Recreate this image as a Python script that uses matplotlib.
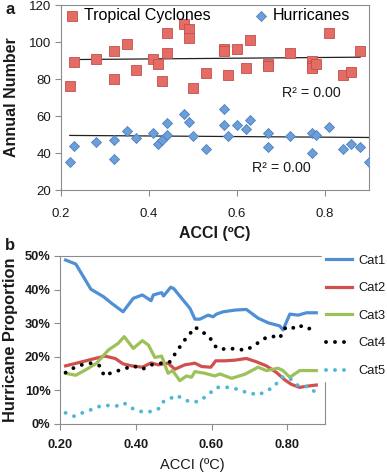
import matplotlib
matplotlib.use("Agg")
import matplotlib.pyplot as plt
from matplotlib.ticker import FuncFormatter

# ---- panel a : annual numbers vs ACCI ----
tc_x = [0.22, 0.23, 0.28, 0.32, 0.32, 0.35, 0.37, 0.41, 0.42, 0.43, 0.44, 0.44,
        0.48, 0.49, 0.49, 0.50, 0.53, 0.57, 0.57, 0.58, 0.60, 0.62, 0.63, 0.67,
        0.67, 0.72, 0.77, 0.77, 0.77, 0.78, 0.81, 0.84, 0.86, 0.88]
tc_y = [76, 89, 91, 95, 80, 99, 85, 91, 88, 79, 105, 94,
        110, 107, 102, 75, 83, 96, 95, 82, 96, 86, 101, 88,
        87, 94, 90, 87, 86, 88, 105, 82, 84, 95]
hu_x = [0.22, 0.23, 0.28, 0.32, 0.32, 0.35, 0.37, 0.41, 0.42, 0.43, 0.44, 0.44,
        0.48, 0.49, 0.50, 0.53, 0.57, 0.57, 0.58, 0.60, 0.62, 0.63, 0.67, 0.67,
        0.72, 0.77, 0.77, 0.78, 0.81, 0.84, 0.86, 0.88, 0.90]
hu_y = [35, 44, 46, 47, 37, 52, 48, 51, 45, 47, 56, 50,
        61, 57, 49, 42, 64, 55, 49, 55, 53, 58, 51, 43,
        49, 51, 40, 50, 54, 42, 45, 43, 35]
# trend lines (endpoints)
tc_trend_x = [0.22, 0.88]
tc_trend_y = [90.5, 91.8]
hu_trend_x = [0.22, 0.90]
hu_trend_y = [49.5, 48.4]

# ---- panel b : hurricane proportion by category ----
cat1_x = [0.214, 0.241, 0.281, 0.314, 0.336, 0.366, 0.393, 0.417, 0.44, 0.446, 0.468,
          0.473, 0.492, 0.50, 0.521, 0.543, 0.556, 0.569, 0.591, 0.604, 0.613, 0.631,
          0.662, 0.692, 0.723, 0.75, 0.78, 0.789, 0.807, 0.829, 0.851, 0.877]
cat1_y = [48.8, 47.6, 40.1, 37.9, 35.9, 33.4, 37.4, 38.4, 36.7, 38.4, 39.1,
          38.1, 40.7, 40.3, 37.4, 34.4, 31.2, 31.2, 32.4, 31.9, 32.7, 33.4,
          33.9, 34.1, 31.5, 30.1, 29.2, 28.0, 32.7, 32.4, 33.1, 33.1]
cat2_x = [0.214, 0.257, 0.292, 0.318, 0.345, 0.366, 0.389, 0.417, 0.44, 0.459, 0.485,
          0.503, 0.529, 0.556, 0.574, 0.598, 0.611, 0.635, 0.662, 0.692, 0.719, 0.745,
          0.772, 0.794, 0.811, 0.833, 0.855, 0.877]
cat2_y = [17.3, 18.5, 19.5, 20.2, 19.5, 17.9, 17.3, 16.9, 18.2, 17.6, 18.1,
          16.3, 17.6, 18.1, 17.1, 16.9, 18.8, 18.8, 19.0, 19.5, 18.5, 17.3,
          15.3, 13.1, 11.8, 10.9, 11.3, 11.6]
cat3_x = [0.214, 0.241, 0.27, 0.296, 0.327, 0.353, 0.369, 0.393, 0.417, 0.433, 0.45,
          0.468, 0.485, 0.497, 0.516, 0.534, 0.547, 0.556, 0.582, 0.609, 0.622, 0.653,
          0.688, 0.723, 0.745, 0.776, 0.789, 0.807, 0.833, 0.877]
cat3_y = [15.1, 14.5, 16.3, 18.1, 22.0, 24.0, 26.0, 22.5, 24.8, 23.5, 19.8,
          20.2, 15.1, 15.9, 12.9, 14.3, 13.9, 15.6, 15.1, 14.3, 14.9, 13.6,
          14.8, 16.9, 15.9, 16.6, 15.9, 13.9, 15.9, 15.9]
cat4_x = [0.214, 0.234, 0.257, 0.281, 0.305, 0.316, 0.336, 0.366, 0.393, 0.417, 0.44,
          0.468, 0.49, 0.507, 0.529, 0.551, 0.556, 0.569, 0.595, 0.609, 0.622, 0.648,
          0.67, 0.692, 0.714, 0.741, 0.759, 0.78, 0.794, 0.807, 0.829, 0.855, 0.877]
cat4_y = [15.3, 16.6, 17.6, 18.1, 17.3, 14.3, 15.3, 16.3, 17.3, 16.3, 17.6,
          18.1, 18.5, 21.5, 25.0, 28.0, 28.8, 28.0, 25.8, 23.2, 22.2, 22.5,
          22.2, 22.0, 23.5, 25.5, 26.2, 25.5, 28.5, 28.0, 29.5, 28.2, 29.5]
cat5_x = [0.214, 0.237, 0.258, 0.278, 0.30, 0.316, 0.336, 0.353, 0.369, 0.389, 0.417,
          0.441, 0.463, 0.472, 0.49, 0.501, 0.51, 0.529, 0.551, 0.569, 0.60, 0.613,
          0.626, 0.648, 0.67, 0.692, 0.714, 0.723, 0.741, 0.763, 0.776, 0.789, 0.807,
          0.829, 0.855, 0.873]
cat5_y = [3.3, 2.3, 3.3, 4.1, 5.1, 5.6, 5.4, 5.4, 6.2, 4.7, 3.6,
          3.7, 4.7, 6.6, 7.4, 8.4, 8.4, 7.1, 6.5, 6.8, 9.6, 10.9,
          10.9, 10.9, 10.3, 9.4, 8.9, 8.6, 9.6, 10.9, 12.6, 14.1, 13.6,
          11.4, 11.1, 9.6]

plt.rcParams['font.family'] = ['Liberation Sans', 'DejaVu Sans']
grey = '#8c8c8c'
txt = '#1a1a1a'

fig = plt.figure(figsize=(3.87, 4.73), dpi=100)

# ================= panel a =================
ax1 = fig.add_axes([0.1576, 0.5983, 0.7959, 0.3911])
ax1.scatter(tc_x, tc_y, marker='s', s=42, color='#e46c64', edgecolors='#c0504d',
            linewidths=0.6, label='Tropical Cyclones', zorder=3)
ax1.scatter(hu_x, hu_y, marker='D', s=26, color='#6b9fd9', edgecolors='#4f81bd',
            linewidths=0.6, label='Hurricanes', zorder=3)
ax1.plot(tc_trend_x, tc_trend_y, color='#222222', lw=0.9, zorder=2)
ax1.plot(hu_trend_x, hu_trend_y, color='#222222', lw=0.9, zorder=2)
ax1.text(0.77, 72.3, 'R² = 0.00', fontsize=10.3, ha='center', va='center', color=txt)
ax1.text(0.70, 31.7, 'R² = 0.00', fontsize=10.3, ha='center', va='center', color=txt)

ax1.set_xlim(0.2, 0.9)
ax1.set_ylim(20, 120)
ax1.set_xticks([0.2, 0.4, 0.6, 0.8])
ax1.set_xticklabels(['0.2', '0.4', '0.6', '0.8'])
ax1.set_yticks([20, 40, 60, 80, 100, 120])
ax1.tick_params(labelsize=9.5, length=4, color=grey, pad=3, labelcolor=txt)
ax1.tick_params(axis='x', pad=9)
for s in ax1.spines.values():
    s.set_color(grey)
ax1.set_xlabel('ACCI (ºC)', fontsize=11.5, fontweight='bold', labelpad=4, color=txt)
ax1.set_ylabel('Annual Number', fontsize=11.5, fontweight='bold', labelpad=7, color=txt)
ax1.legend(loc='upper left', ncol=2, frameon=False, fontsize=11.5,
           handletextpad=0.1, columnspacing=2.6, borderaxespad=0.1,
           bbox_to_anchor=(-0.02, 1.025), handlelength=1.2)
fig.text(0.013, 0.995, 'a', fontsize=12, fontweight='bold', va='top', color=txt)

# ================= panel b =================
ax2 = fig.add_axes([0.1558, 0.1036, 0.684, 0.3552])
ax2.plot(cat1_x, cat1_y, color='#4f8fd6', lw=2.3, label='Cat1')
ax2.plot(cat2_x, cat2_y, color='#d0504d', lw=2.3, label='Cat2')
ax2.plot(cat3_x, cat3_y, color='#9bc158', lw=2.3, label='Cat3')
ax2.plot(cat4_x, cat4_y, color='black', lw=2.8, ls=(0, (0.01, 2.3)),
         dash_capstyle='round', label='Cat4')
ax2.plot(cat5_x, cat5_y, color='#4cb8d6', lw=2.8, ls=(0, (0.01, 2.3)),
         dash_capstyle='round', label='Cat5')

ax2.set_xlim(0.2, 0.9)
ax2.set_ylim(0, 50)
ax2.set_xticks([0.2, 0.4, 0.6, 0.8])
ax2.set_yticks([0, 10, 20, 30, 40, 50])
ax2.xaxis.set_major_formatter(FuncFormatter(lambda v, p: '%.2f' % v))
ax2.yaxis.set_major_formatter(FuncFormatter(lambda v, p: '%d%%' % v))
ax2.tick_params(labelsize=9.3, length=4, color=grey, pad=3, labelcolor=txt)
ax2.tick_params(axis='x', pad=7)
for lab in ax2.get_xticklabels() + ax2.get_yticklabels():
    lab.set_fontweight('bold')
for s in ax2.spines.values():
    s.set_color(grey)
ax2.set_xlabel('ACCI (ºC)', fontsize=10.5, labelpad=5, color=txt)
ax2.set_ylabel('Hurricane Proportion', fontsize=11.8, fontweight='bold', labelpad=5,
               color=txt)
leg = ax2.legend(loc='upper left', bbox_to_anchor=(0.99, 1.03), frameon=True,
                 fontsize=9.3, handlelength=2.0, handletextpad=0.45,
                 labelspacing=1.2, borderpad=0.3, borderaxespad=0)
leg.get_frame().set_facecolor('white')
leg.get_frame().set_edgecolor('white')
leg.get_frame().set_alpha(1)
for t in leg.get_texts():
    t.set_color(txt)
fig.text(0.012, 0.496, 'b', fontsize=12, fontweight='bold', va='top', color=txt)

fig.savefig('out.png', dpi=100)
